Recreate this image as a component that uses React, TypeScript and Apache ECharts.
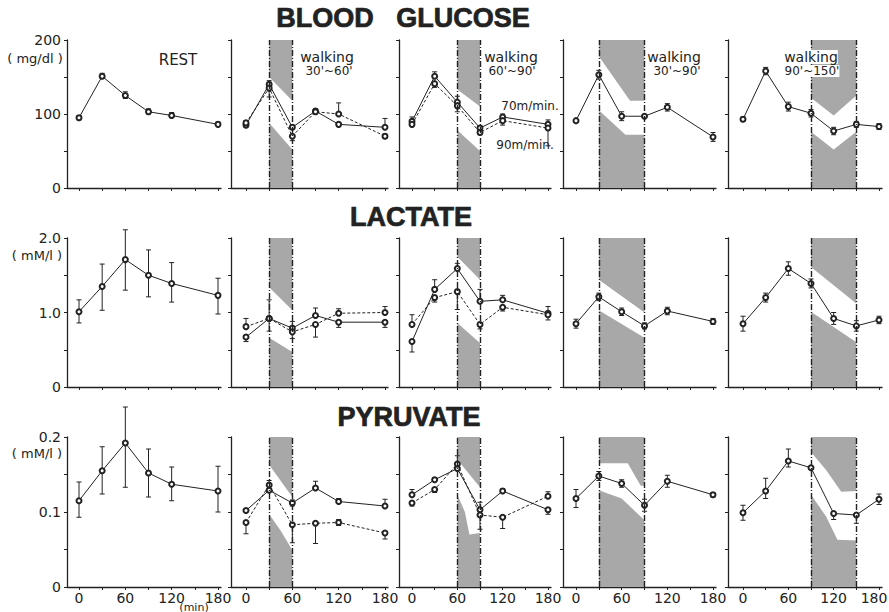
import React, { useEffect, useRef } from "react";
import * as echarts from "echarts";

// ---------- time points (min) ----------
const T6 = [0, 30, 60, 90, 120, 180];
const T7 = [0, 30, 60, 90, 120, 150, 180];
const xTicks = [0, 30, 60, 90, 120, 150, 180];
const xLabels = [0, 60, 120, 180];

// walking periods
const walk3060 = [30, 60];
const walk6090 = [60, 90];
const walk3090 = [30, 90];
const walk90150 = [90, 150];

// ---------- BLOOD GLUCOSE (mg/dl) ----------
const gluRest = [95, 151, 125, 103, 98, 86];
const gluRestHi = [98, 155, 130, 107, 102, 89];
const gluRestLo = [92, 148, 121, 100, 95, 84];

const glu3060A = [85, 140, 82, 104, 86, 82];
const glu3060AHi = [88, 145, 85, 107, null, 94];
const glu3060ALo = [82, null, 79, null, 83, null];
const glu3060B = [88, 135, 70, 103, 100, 70];
const glu3060BHi = [91, null, null, null, 115, 73];
const glu3060BLo = [85, 123, 64, 100, null, 67];

const glu6090A = [90, 151, 116, 81, 96, 86];
const glu6090AHi = [96, 157, 124, 84, 100, 92];
const glu6090ALo = [null, null, null, 78, null, null];
const glu6090B = [86, 141, 111, 75, 91, 81];
const glu6090BHi = [null, null, null, null, null, null];
const glu6090BLo = [83, 136, 103, 72, 85, 57];

const glu3090 = [91, 153, 97, 97, 109, 69];
const glu3090Hi = [null, 159, 103, null, 114, 75];
const glu3090Lo = [null, 147, 91, null, 104, 63];

const glu90150 = [93, 158, 110, 101, 77, 86, 83];
const glu90150Hi = [96, 163, 116, 106, 82, 90, 87];
const glu90150Lo = [90, 153, 104, 96, 72, 82, 79];

const gluShade3060Top = [[30, 150], [60, 118]];
const gluShade3060Bot = [[30, 88], [60, 52]];
const gluShade6090Top = [[60, 133], [90, 110]];
const gluShade6090Bot = [[60, 78], [90, 50]];
const gluShade3090Top = [[30, 178], [71, 118], [90, 118]];
const gluShade3090Bot = [[30, 105], [65, 72], [90, 72]];
const gluShade90150Top = [[90, 122], [120, 98], [150, 125]];
const gluShade90150Bot = [[90, 76], [120, 52], [150, 76]];

// ---------- LACTATE (mM/l) ----------
const lacRest = [1.01, 1.35, 1.71, 1.5, 1.39, 1.23];
const lacRestHi = [1.17, 1.65, 2.11, 1.84, 1.67, 1.46];
const lacRestLo = [0.86, 1.03, 1.3, 1.21, 1.14, 0.98];

const lac3060A = [0.67, 0.92, 0.79, 0.96, 0.87, 0.87];
const lac3060AHi = [null, null, 0.88, 1.06, null, null];
const lac3060ALo = [0.61, 0.75, null, null, 0.8, 0.8];
const lac3060B = [0.81, 0.92, 0.74, 0.84, 0.99, 1.0];
const lac3060BHi = [0.92, 1.17, null, null, 1.05, 1.08];
const lac3060BLo = [null, null, 0.65, 0.67, null, null];

const lac6090A = [0.61, 1.31, 1.59, 1.15, 1.17, 0.99];
const lac6090AHi = [null, 1.44, 1.66, 1.31, 1.23, 1.08];
const lac6090ALo = [0.47, null, null, null, null, null];
const lac6090B = [0.84, 1.2, 1.28, 0.84, 1.07, 0.97];
const lac6090BHi = [0.97, null, null, null, null, null];
const lac6090BLo = [null, 1.14, 1.04, 0.78, 1.02, 0.9];

const lac3090 = [0.85, 1.21, 1.01, 0.82, 1.02, 0.88];
const lac3090Hi = [0.91, 1.26, 1.06, 0.86, 1.07, 0.92];
const lac3090Lo = [0.79, 1.16, 0.96, 0.78, 0.97, 0.84];

const lac90150 = [0.85, 1.2, 1.59, 1.39, 0.92, 0.82, 0.9];
const lac90150Hi = [0.95, 1.26, 1.68, 1.45, 1.0, 0.89, 0.95];
const lac90150Lo = [0.75, 1.14, 1.5, 1.33, 0.84, 0.75, 0.85];

const lacShade3060Top = [[30, 1.34], [60, 1.03]];
const lacShade3060Bot = [[30, 0.66], [60, 0.47]];
const lacShade6090Top = [[60, 1.75], [90, 1.44]];
const lacShade6090Bot = [[60, 0.86], [90, 0.59]];
const lacShade3090Top = [[30, 1.44], [90, 1.0]];
const lacShade3090Bot = [[30, 1.03], [90, 0.66]];
const lacShade90150Top = [[90, 1.61], [150, 1.12]];
const lacShade90150Bot = [[90, 1.01], [150, 0.6]];

// ---------- PYRUVATE (mM/l) ----------
const pyrRest = [0.115, 0.155, 0.192, 0.152, 0.137, 0.128];
const pyrRestHi = [0.14, 0.187, 0.24, 0.184, 0.16, 0.161];
const pyrRestLo = [0.093, 0.124, 0.133, 0.12, 0.115, 0.1];

const pyr3060A = [0.102, 0.129, 0.112, 0.132, 0.114, 0.108];
const pyr3060AHi = [null, null, 0.116, 0.141, 0.118, 0.117];
const pyr3060ALo = [null, null, 0.108, null, null, null];
const pyr3060B = [0.086, 0.136, 0.083, 0.085, 0.086, 0.072];
const pyr3060BHi = [null, 0.142, null, null, 0.09, null];
const pyr3060BLo = [0.071, null, 0.059, 0.058, 0.082, 0.064];

const pyr6090A = [0.123, 0.143, 0.158, 0.103, 0.128, 0.103];
const pyr6090AHi = [0.13, 0.146, null, 0.113, 0.131, null];
const pyr6090ALo = [null, null, null, null, null, 0.097];
const pyr6090B = [0.112, 0.13, 0.164, 0.096, 0.093, 0.121];
const pyr6090BHi = [null, null, 0.175, null, null, 0.127];
const pyr6090BLo = [0.108, 0.126, null, 0.077, 0.078, null];

const pyr3090 = [0.118, 0.148, 0.138, 0.109, 0.141, 0.123];
const pyr3090Hi = [0.13, 0.154, 0.143, 0.117, 0.149, 0.126];
const pyr3090Lo = [0.106, 0.142, 0.133, 0.101, 0.133, 0.12];

const pyr90150 = [0.099, 0.128, 0.168, 0.159, 0.098, 0.096, 0.117];
const pyr90150Hi = [0.109, 0.145, 0.184, null, null, null, 0.124];
const pyr90150Lo = [0.089, 0.118, 0.16, null, 0.09, 0.085, 0.11];

const pyrShade3060Top = [[30, 0.163], [60, 0.12]];
const pyrShade3060Bot = [[30, 0.097], [45, 0.075], [60, 0.049]];
const pyrShade6090Top = [[60, 0.17], [90, 0.133]];
const pyrShade6090Bot = [[60, 0.123], [70, 0.1], [76, 0.07], [90, 0.072]];
const pyrShade3090Top = [[30, 0.165], [68, 0.165], [85, 0.135], [90, 0.135]];
const pyrShade3090Bot = [[30, 0.129], [60, 0.118], [90, 0.089]];
const pyrShade90150Top = [[90, 0.18], [110, 0.156], [130, 0.127], [150, 0.128]];
const pyrShade90150Bot = [[90, 0.123], [110, 0.094], [125, 0.063], [150, 0.062]];

// ---------- layout (pixels) ----------
const colLeft = [67, 231, 399, 563, 728];
const colX0 = [79, 246, 412, 576, 743];
const colX180 = [218, 385, 548, 713, 879];
const axisOverhang = 3;
const rowTop = [40, 238, 437];
const rowBottom = [188, 387, 587];

const ink = "#222";
const shade = "#a8a8a8";
const font = "DejaVu Sans";

type SDef = { v: number[]; hi: (number | null)[]; lo: (number | null)[]; dashed?: boolean };
type PDef = { t: number[]; s: SDef[]; walk?: number[]; top?: number[][]; bot?: number[][] };

const fmt0 = (v: number) => String(v);
const fmt1 = (v: number) => (v === 0 ? "0" : v.toFixed(1));

const rows: { max: number; step: number; labels: number[]; fmt: (v: number) => string; panels: PDef[] }[] = [
  {
    max: 200, step: 50, labels: [0, 100, 200], fmt: fmt0,
    panels: [
      { t: T6, s: [{ v: gluRest, hi: gluRestHi, lo: gluRestLo }] },
      { t: T6, walk: walk3060, top: gluShade3060Top, bot: gluShade3060Bot, s: [
        { v: glu3060A, hi: glu3060AHi, lo: glu3060ALo },
        { v: glu3060B, hi: glu3060BHi, lo: glu3060BLo, dashed: true }] },
      { t: T6, walk: walk6090, top: gluShade6090Top, bot: gluShade6090Bot, s: [
        { v: glu6090A, hi: glu6090AHi, lo: glu6090ALo },
        { v: glu6090B, hi: glu6090BHi, lo: glu6090BLo, dashed: true }] },
      { t: T6, walk: walk3090, top: gluShade3090Top, bot: gluShade3090Bot, s: [
        { v: glu3090, hi: glu3090Hi, lo: glu3090Lo }] },
      { t: T7, walk: walk90150, top: gluShade90150Top, bot: gluShade90150Bot, s: [
        { v: glu90150, hi: glu90150Hi, lo: glu90150Lo }] },
    ],
  },
  {
    max: 2.0, step: 0.5, labels: [0, 1, 2], fmt: fmt1,
    panels: [
      { t: T6, s: [{ v: lacRest, hi: lacRestHi, lo: lacRestLo }] },
      { t: T6, walk: walk3060, top: lacShade3060Top, bot: lacShade3060Bot, s: [
        { v: lac3060A, hi: lac3060AHi, lo: lac3060ALo },
        { v: lac3060B, hi: lac3060BHi, lo: lac3060BLo, dashed: true }] },
      { t: T6, walk: walk6090, top: lacShade6090Top, bot: lacShade6090Bot, s: [
        { v: lac6090A, hi: lac6090AHi, lo: lac6090ALo },
        { v: lac6090B, hi: lac6090BHi, lo: lac6090BLo, dashed: true }] },
      { t: T6, walk: walk3090, top: lacShade3090Top, bot: lacShade3090Bot, s: [
        { v: lac3090, hi: lac3090Hi, lo: lac3090Lo }] },
      { t: T7, walk: walk90150, top: lacShade90150Top, bot: lacShade90150Bot, s: [
        { v: lac90150, hi: lac90150Hi, lo: lac90150Lo }] },
    ],
  },
  {
    max: 0.2, step: 0.05, labels: [0, 0.1, 0.2], fmt: fmt1,
    panels: [
      { t: T6, s: [{ v: pyrRest, hi: pyrRestHi, lo: pyrRestLo }] },
      { t: T6, walk: walk3060, top: pyrShade3060Top, bot: pyrShade3060Bot, s: [
        { v: pyr3060A, hi: pyr3060AHi, lo: pyr3060ALo },
        { v: pyr3060B, hi: pyr3060BHi, lo: pyr3060BLo, dashed: true }] },
      { t: T6, walk: walk6090, top: pyrShade6090Top, bot: pyrShade6090Bot, s: [
        { v: pyr6090A, hi: pyr6090AHi, lo: pyr6090ALo },
        { v: pyr6090B, hi: pyr6090BHi, lo: pyr6090BLo, dashed: true }] },
      { t: T6, walk: walk3090, top: pyrShade3090Top, bot: pyrShade3090Bot, s: [
        { v: pyr3090, hi: pyr3090Hi, lo: pyr3090Lo }] },
      { t: T7, walk: walk90150, top: pyrShade90150Top, bot: pyrShade90150Bot, s: [
        { v: pyr90150, hi: pyr90150Hi, lo: pyr90150Lo }] },
    ],
  },
];

function errRender(params: any, api: any) {
  const x = api.value(0);
  const lo = api.value(1);
  const hi = api.value(2);
  const v = api.value(3);
  const a = api.coord([x, lo]);
  const b = api.coord([x, hi]);
  const st = { stroke: ink, lineWidth: 1 };
  const cap = 2.5;
  const children: any[] = [
    { type: "line", shape: { x1: a[0], y1: a[1], x2: b[0], y2: b[1] }, style: st },
  ];
  if (hi > v) children.push({ type: "line", shape: { x1: b[0] - cap, y1: b[1], x2: b[0] + cap, y2: b[1] }, style: st });
  if (lo < v) children.push({ type: "line", shape: { x1: a[0] - cap, y1: a[1], x2: a[0] + cap, y2: a[1] }, style: st });
  return { type: "group", children };
}

function txt(text: string, x: number, y: number, fnt: string, extra: any = {}) {
  return {
    type: "text", x, y, z: 100, silent: true,
    style: { text, font: fnt, fill: ink, align: "center", verticalAlign: "middle", textAlign: "center", textVerticalAlign: "middle", ...extra },
  };
}

function buildOption() {
  const grid: any[] = [];
  const xAxis: any[] = [];
  const yAxis: any[] = [];
  const series: any[] = [];
  const axisLineStyle = { color: ink, width: 1.3 };
  rows.forEach((row, r) => {
    row.panels.forEach((p, c) => {
      const idx = r * 5 + c;
      const x0 = colX0[c];
      const left = colLeft[c];
      const right = colX180[c] + axisOverhang;
      const s = (colX180[c] - x0) / 180;
      grid.push({
        left, top: rowTop[r], width: right - left, height: rowBottom[r] - rowTop[r],
        containLabel: false, outerBoundsMode: "none",
      });
      const lastCol = c === 4;
      xAxis.push({
        type: "value", gridIndex: idx, min: -(x0 - left) / s, max: (right - x0) / s,
        axisLine: { show: true, onZero: false, lineStyle: axisLineStyle },
        axisTick: { show: true, customValues: xTicks, length: 3, lineStyle: { color: ink, width: 1 } },
        axisLabel: {
          show: r === 2, customValues: xLabels, margin: 4, color: ink, fontSize: 14, fontFamily: font,
          formatter: (v: number) => (lastCol && v === 180 ? "{r|180}" : String(v)),
          rich: { r: { fontSize: 14, fontFamily: font, color: ink, padding: [0, 10, 0, 0] } },
        },
        splitLine: { show: false },
      });
      yAxis.push({
        type: "value", gridIndex: idx, min: 0, max: row.max, interval: row.step,
        axisLine: { show: true, onZero: false, lineStyle: axisLineStyle },
        axisTick: { show: true, length: 3, lineStyle: { color: ink, width: 1 } },
        axisLabel: { show: c === 0, customValues: row.labels, formatter: row.fmt, margin: 6, color: ink, fontSize: 14, fontFamily: font },
        splitLine: { show: false },
      });
      if (p.walk) {
        series.push({
          type: "line", xAxisIndex: idx, yAxisIndex: idx, data: p.top, symbol: "none", silent: true,
          lineStyle: { width: 0 }, areaStyle: { origin: "end", color: shade, opacity: 1 }, z: 1,
          markLine: {
            silent: true, symbol: ["none", "none"], label: { show: false },
            lineStyle: { color: ink, width: 1.4, type: [6, 2, 1, 2] },
            data: [{ xAxis: p.walk[0] }, { xAxis: p.walk[1] }],
          },
        });
        series.push({
          type: "line", xAxisIndex: idx, yAxisIndex: idx, data: p.bot, symbol: "none", silent: true,
          lineStyle: { width: 0 }, areaStyle: { origin: "start", color: shade, opacity: 1 }, z: 1,
        });
      }
      p.s.forEach((sd) => {
        const err: number[][] = [];
        p.t.forEach((t, i) => {
          const hi = sd.hi[i];
          const lo = sd.lo[i];
          if (hi != null || lo != null) err.push([t, lo ?? sd.v[i], hi ?? sd.v[i], sd.v[i]]);
        });
        series.push({
          type: "custom", xAxisIndex: idx, yAxisIndex: idx, data: err, renderItem: errRender,
          encode: { x: 0, y: [1, 2] }, silent: true, z: 3,
        });
        series.push({
          type: "line", xAxisIndex: idx, yAxisIndex: idx,
          data: p.t.map((t, i) => [t, sd.v[i]]),
          symbol: "emptyCircle", symbolSize: 5, silent: true,
          lineStyle: { color: ink, width: 1, type: sd.dashed ? [3, 2] : "solid" },
          itemStyle: { color: ink, borderWidth: 1 }, z: 4,
        });
      });
    });
  });

  const titleFont = 'bold 27px "Liberation Sans"';
  const titleExtra = { stroke: ink, lineWidth: 0.7 };
  const lab = `14px "${font}"`;
  const lab2 = `12px "${font}"`;
  const graphic = [
    txt("BLOOD   GLUCOSE", 403, 18, titleFont, titleExtra),
    txt("LACTATE", 411, 217, titleFont, titleExtra),
    txt("PYRUVATE", 409, 417, titleFont, titleExtra),
    txt("( mg/dl )", 35, 58, `13px "${font}"`),
    txt("( mM/l )", 37, 255, `13px "${font}"`),
    txt("( mM/l )", 37, 453, `13px "${font}"`),
    txt("(min)", 194, 607, `11px "${font}"`),
    txt("REST", 178, 60, `15px "${font}"`),
    txt("walking", 327, 57, lab),
    txt("30'~60'", 329, 71, lab2),
    txt("walking", 511, 57, lab),
    txt("60'~90'", 512, 71, lab2),
    txt("walking", 674, 57, lab),
    txt("30'~90'", 677, 71, lab2),
    txt("walking", 811, 57, lab, { backgroundColor: "#fff" }),
    txt("90'~150'", 812, 71, lab2, { backgroundColor: "#fff" }),
    txt("70m/min.", 530, 106, lab2),
    txt("90m/min.", 525, 145, lab2),
  ];

  return { animation: false, backgroundColor: "#fff", grid, xAxis, yAxis, series, graphic };
}

export default function App() {
  const ref = useRef<HTMLDivElement>(null);
  useEffect(() => {
    const chart = echarts.init(ref.current!, null, { renderer: "svg" });
    chart.setOption(buildOption() as any);
    return () => chart.dispose();
  }, []);
  return (
    <div
      ref={ref}
      style={{ position: "absolute", left: 0, top: 0, width: 889, height: 612, background: "#fff" }}
    />
  );
}
